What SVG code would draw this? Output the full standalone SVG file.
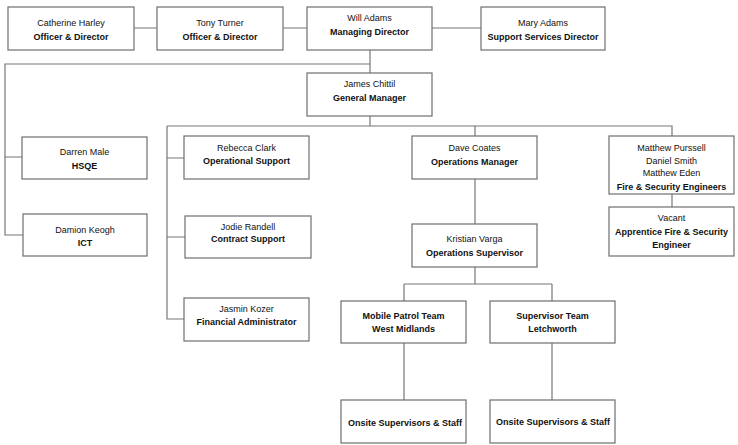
<svg xmlns="http://www.w3.org/2000/svg" width="738" height="445" viewBox="0 0 738 445">
<style>
.box{fill:#fff;stroke:#6e6e6e;stroke-width:1.2}
.ln{fill:none;stroke:#777;stroke-width:1.2}
text{font-family:"Liberation Sans",Arial,sans-serif;font-size:9px;fill:#111;text-anchor:middle}
.b{font-weight:bold}
</style>
<rect width="738" height="445" fill="#fff"/>
<g id="connectors">
<path class="ln" d="M134 28H157M283 28H307M432 28H481"/>
<path class="ln" d="M370 50V73M370 64H5V235H23M5 157H22"/>
<path class="ln" d="M370 116V126M167 126H672V136M475 126V136M167 126V319H184M167 158H184M167 237H185"/>
<path class="ln" d="M672 194V207M475 179V224M475 267V284M404 284H552M404 284V301M552 284V301M404 343V400M552 343V400"/>
</g>
<g id="catherine"><rect class="box" x="8" y="7" width="126" height="43"/><text x="71" y="26">Catherine Harley</text><text class="b" x="71" y="40">Officer &amp; Director</text></g>
<g id="tony"><rect class="box" x="157" y="7" width="126" height="43"/><text x="220" y="26">Tony Turner</text><text class="b" x="220" y="40">Officer &amp; Director</text></g>
<g id="will"><rect class="box" x="307" y="7" width="125" height="43"/><text x="369.5" y="21">Will Adams</text><text class="b" x="369.5" y="35">Managing Director</text></g>
<g id="mary"><rect class="box" x="481" y="7" width="124" height="43"/><text x="543" y="26">Mary Adams</text><text class="b" x="543" y="40">Support Services Director</text></g>
<g id="james"><rect class="box" x="307" y="73" width="125" height="43"/><text x="369.5" y="87">James Chittil</text><text class="b" x="369.5" y="101">General Manager</text></g>
<g id="darren"><rect class="box" x="22" y="137" width="125" height="42"/><text x="84.5" y="155">Darren Male</text><text class="b" x="84.5" y="169">HSQE</text></g>
<g id="damion"><rect class="box" x="23" y="214" width="124" height="42"/><text x="85" y="233">Damion Keogh</text><text class="b" x="85" y="246">ICT</text></g>
<g id="rebecca"><rect class="box" x="184" y="136" width="125" height="43"/><text x="246.5" y="151">Rebecca Clark</text><text class="b" x="246.5" y="164">Operational Support</text></g>
<g id="jodie"><rect class="box" x="185" y="216" width="126" height="42"/><text x="248" y="230">Jodie Randell</text><text class="b" x="248" y="242">Contract Support</text></g>
<g id="jasmin"><rect class="box" x="184" y="298" width="125" height="43"/><text x="246.5" y="312">Jasmin Kozer</text><text class="b" x="246.5" y="325">Financial Administrator</text></g>
<g id="dave"><rect class="box" x="412" y="136" width="125" height="43"/><text x="474.5" y="151">Dave Coates</text><text class="b" x="474.5" y="165">Operations Manager</text></g>
<g id="engineers"><rect class="box" x="609" y="136" width="125" height="58"/><text x="671.5" y="151">Matthew Purssell</text><text x="671.5" y="164">Daniel Smith</text><text x="671.5" y="176">Matthew Eden</text><text class="b" x="671.5" y="190">Fire &amp; Security Engineers</text></g>
<g id="vacant"><rect class="box" x="609" y="207" width="125" height="49"/><text x="671.5" y="221">Vacant</text><text class="b" x="671.5" y="235">Apprentice Fire &amp; Security</text><text class="b" x="671.5" y="248">Engineer</text></g>
<g id="kristian"><rect class="box" x="412" y="224" width="125" height="43"/><text x="474.5" y="242">Kristian Varga</text><text class="b" x="474.5" y="256">Operations Supervisor</text></g>
<g id="mobile"><rect class="box" x="341" y="301" width="125" height="42"/><text class="b" x="403.5" y="319">Mobile Patrol Team</text><text class="b" x="403.5" y="332">West Midlands</text></g>
<g id="supervisor"><rect class="box" x="490" y="301" width="125" height="42"/><text class="b" x="552.5" y="319">Supervisor Team</text><text class="b" x="552.5" y="332">Letchworth</text></g>
<g id="onsite1"><rect class="box" x="341" y="400" width="125" height="43"/><text class="b" x="405" y="426">Onsite Supervisors &amp; Staff</text></g>
<g id="onsite2"><rect class="box" x="490" y="400" width="125" height="43"/><text class="b" x="553" y="425">Onsite Supervisors &amp; Staff</text></g>
</svg>
